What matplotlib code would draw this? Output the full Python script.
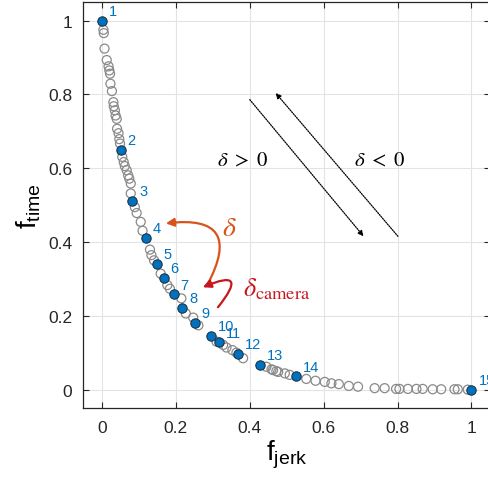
import numpy as np
import matplotlib
matplotlib.use('Agg')
import matplotlib.pyplot as plt

plt.rcParams['font.family'] = ['Liberation Sans', 'DejaVu Sans']
plt.rcParams['mathtext.fontset'] = 'stix'

# --- datos: puntos grises (frente de Pareto completo) ---
gris_x = [0.004, 0.005, 0.007, 0.013, 0.018, 0.020, 0.022, 0.023, 0.027, 0.031,
          0.032, 0.035, 0.037, 0.040, 0.041, 0.045, 0.047, 0.049, 0.055, 0.059,
          0.062, 0.067, 0.071, 0.074, 0.078, 0.078, 0.089, 0.094, 0.105, 0.110,
          0.130, 0.134, 0.141, 0.159, 0.177, 0.184, 0.215, 0.227, 0.247, 0.261,
          0.310, 0.328, 0.337, 0.353, 0.364, 0.382, 0.445, 0.459, 0.472, 0.463,
          0.477, 0.495, 0.508, 0.553, 0.578, 0.603, 0.621, 0.641, 0.668, 0.693,
          0.738, 0.765, 0.796, 0.805, 0.828, 0.851, 0.868, 0.895, 0.918, 0.954,
          0.963, 0.990]
gris_y = [0.975, 0.966, 0.924, 0.893, 0.876, 0.865, 0.856, 0.829, 0.809, 0.779,
          0.768, 0.757, 0.743, 0.734, 0.707, 0.695, 0.679, 0.667, 0.631, 0.617,
          0.606, 0.595, 0.581, 0.572, 0.559, 0.532, 0.495, 0.479, 0.455, 0.431,
          0.380, 0.365, 0.351, 0.315, 0.284, 0.274, 0.248, 0.207, 0.196, 0.175,
          0.131, 0.122, 0.115, 0.108, 0.101, 0.086, 0.063, 0.056, 0.051, 0.054,
          0.049, 0.045, 0.041, 0.030, 0.025, 0.022, 0.018, 0.016, 0.011, 0.009,
          0.005, 0.005, 0.003, 0.003, 0.003, 0.003, 0.003, 0.002, 0.002, 0.002,
          0.002, 0.001]

# --- datos: puntos seleccionados (azules, numerados) ---
azul_x = [0.0, 0.051, 0.082, 0.119, 0.148, 0.167, 0.194, 0.217, 0.251, 0.296,
          0.317, 0.368, 0.428, 0.524, 1.0]
azul_y = [1.0, 0.649, 0.511, 0.411, 0.342, 0.304, 0.259, 0.222, 0.181, 0.147,
          0.129, 0.097, 0.069, 0.037, 0.0]
etiquetas = [str(i) for i in range(1, 16)]

ticks = [0, 0.2, 0.4, 0.6, 0.8, 1]
tick_labels = ['0', '0.2', '0.4', '0.6', '0.8', '1']

azul = '#0072BD'
naranja = '#D95319'
rojo = '#C8161D'

fig = plt.figure(figsize=(4.88, 4.85), dpi=100)
ax = fig.add_axes([0.171, 0.1557, 0.833, 0.838])

ax.scatter(gris_x, gris_y, s=42, facecolors='none', edgecolors='#8a8a8a',
           linewidths=0.9, zorder=3)
ax.scatter(azul_x, azul_y, s=46, facecolors=azul, edgecolors='#1a2a3a',
           linewidths=0.7, zorder=4)

for x, y, txt in zip(azul_x, azul_y, etiquetas):
    ax.annotate(txt, (x, y), xytext=(5, 7), textcoords='offset points',
                color=azul, fontsize=10.5, ha='left', va='center',
                annotation_clip=False, zorder=5)

# flechas punteadas
ax.annotate('', xy=(0.708, 0.416), xytext=(0.40, 0.786),
            arrowprops=dict(arrowstyle='-|>', color='k', lw=0.9,
                            linestyle=(0, (1, 1)), mutation_scale=8,
                            shrinkA=0, shrinkB=0))
ax.annotate('', xy=(0.470, 0.804), xytext=(0.801, 0.416),
            arrowprops=dict(arrowstyle='-|>', color='k', lw=0.9,
                            linestyle=(0, (1, 1)), mutation_scale=8,
                            shrinkA=0, shrinkB=0))
ax.text(0.381, 0.622, r'$\delta\ >\ 0$', fontsize=15, ha='center', va='center')
ax.text(0.751, 0.622, r'$\delta\ <\ 0$', fontsize=15, ha='center', va='center')

# flechas curvas
ax.annotate('', xy=(0.173, 0.451), xytext=(0.286, 0.286),
            arrowprops=dict(arrowstyle='-|>', color=naranja, lw=1.6,
                            connectionstyle='arc3,rad=0.95', mutation_scale=12,
                            shrinkA=0, shrinkB=0))
ax.annotate('', xy=(0.273, 0.278), xytext=(0.314, 0.224),
            arrowprops=dict(arrowstyle='-|>', color=rojo, lw=1.6,
                            connectionstyle='arc3,rad=2.0', mutation_scale=12,
                            shrinkA=0, shrinkB=0))
ax.text(0.346, 0.438, r'$\delta$', color=naranja, fontsize=20,
        ha='center', va='center')
ax.text(0.383, 0.275, r'$\delta_{\mathrm{camera}}$', color=rojo, fontsize=19,
        ha='left', va='center')

ax.set_xlim(-0.05, 1.05)
ax.set_ylim(-0.05, 1.05)
ax.set_xticks(ticks)
ax.set_xticklabels(tick_labels)
ax.set_yticks(ticks)
ax.set_yticklabels(tick_labels)
ax.tick_params(direction='in', top=True, right=True, length=4, width=0.8,
               labelsize=12.5, colors='#262626', pad=8)
ax.grid(True, color='#e3e3e3', lw=0.8)
ax.set_axisbelow(True)
for s in ax.spines.values():
    s.set_color('#262626')
    s.set_linewidth(0.9)

ax.set_xlabel(r'$\mathregular{f_{jerk}}$', fontsize=20, labelpad=2)
ax.set_ylabel(r'$\mathregular{f_{time}}$', fontsize=20, labelpad=4)

fig.savefig('out.png', dpi=100)
